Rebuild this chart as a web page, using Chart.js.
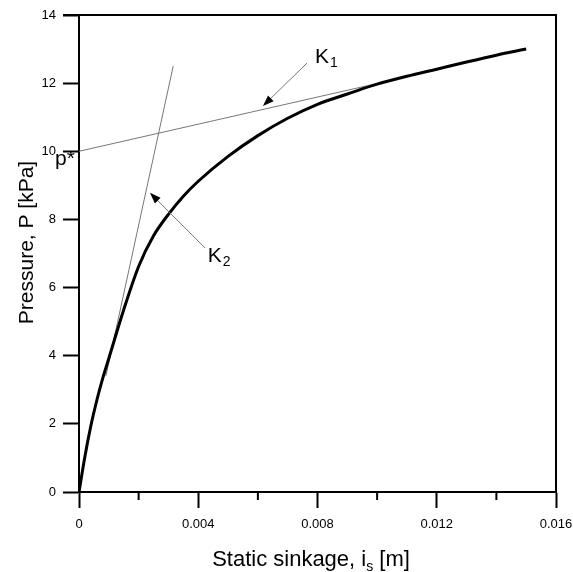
<!DOCTYPE html>
<html>
<head>
<meta charset="utf-8">
<script src="https://cdn.jsdelivr.net/npm/chart.js@4"></script>
<style>
  body { margin: 0; background: #fff; }
  #wrap { width: 573px; height: 572px; }
</style>
</head>
<body>
<div id="wrap"><canvas id="sinkChart" width="573" height="572"></canvas></div>
<script>
// measured curve: static sinkage [m] vs pressure [kPa]
const sinkage = [0, 0.0002, 0.0004, 0.0006, 0.0008, 0.001, 0.0015, 0.002, 0.0025, 0.003, 0.0035, 0.004,
  0.005, 0.006, 0.007, 0.008, 0.009, 0.010, 0.011, 0.012, 0.013, 0.014, 0.015];
const pressure = [0, 1.05, 1.95, 2.7, 3.35, 3.92, 5.35, 6.62, 7.52, 8.15, 8.68, 9.12,
  9.85, 10.46, 10.97, 11.38, 11.68, 11.97, 12.2, 12.41, 12.62, 12.82, 13.0];

// tangent lines
const k1Sinkage = [0, 0.0103];
const k1Pressure = [10, 12.05];
const k2Sinkage = [0.0009, 0.00316];
const k2Pressure = [3.4, 12.5];

const font = '"Liberation Sans", Arial, sans-serif';

// labels and arrows, placed in data units
const notes = [
  { text: 'K', sub: '1', x: 0.00792, y: 12.59 },
  { text: 'K', sub: '2', x: 0.00432, y: 6.76 },
  { text: 'p*', sub: '', x: -0.000805, y: 9.6 }
];
const arrows = [
  { from: [0.00765, 12.59], to: [0.00617, 11.33] },
  { from: [0.00423, 7.16], to: [0.00238, 8.78] }
];

function pts(xs, ys) {
  return xs.map((x, i) => ({ x: x, y: ys[i] }));
}

const extras = {
  id: 'extras',
  afterDraw(chart) {
    const ctx = chart.ctx;
    const xs = chart.scales.x, ys = chart.scales.y;
    const a = chart.chartArea;
    ctx.save();

    // frame: top and right
    ctx.strokeStyle = '#000';
    ctx.lineWidth = 2;
    ctx.beginPath();
    ctx.moveTo(a.left - 16, a.top);
    ctx.lineTo(a.right, a.top);
    ctx.lineTo(a.right, a.bottom);
    ctx.stroke();

    // minor x ticks
    [0.002, 0.006, 0.010, 0.014].forEach(v => {
      const px = xs.getPixelForValue(v);
      ctx.beginPath();
      ctx.moveTo(px, a.bottom);
      ctx.lineTo(px, a.bottom + 8);
      ctx.stroke();
    });

    // arrows
    arrows.forEach(ar => {
      const x1 = xs.getPixelForValue(ar.from[0]), y1 = ys.getPixelForValue(ar.from[1]);
      const x2 = xs.getPixelForValue(ar.to[0]), y2 = ys.getPixelForValue(ar.to[1]);
      const ang = Math.atan2(y2 - y1, x2 - x1);
      ctx.strokeStyle = '#777';
      ctx.lineWidth = 1;
      ctx.beginPath();
      ctx.moveTo(x1, y1);
      ctx.lineTo(x2 - 8 * Math.cos(ang), y2 - 8 * Math.sin(ang));
      ctx.stroke();
      ctx.fillStyle = '#000';
      ctx.beginPath();
      ctx.moveTo(x2, y2);
      ctx.lineTo(x2 - 11 * Math.cos(ang) + 4 * Math.sin(ang), y2 - 11 * Math.sin(ang) - 4 * Math.cos(ang));
      ctx.lineTo(x2 - 11 * Math.cos(ang) - 4 * Math.sin(ang), y2 - 11 * Math.sin(ang) + 4 * Math.cos(ang));
      ctx.closePath();
      ctx.fill();
    });

    // labels
    ctx.fillStyle = '#000';
    ctx.textBaseline = 'alphabetic';
    ctx.textAlign = 'left';
    notes.forEach(n => {
      const px = xs.getPixelForValue(n.x), py = ys.getPixelForValue(n.y);
      ctx.font = '21px ' + font;
      ctx.fillText(n.text, px, py);
      if (n.sub) {
        const w = ctx.measureText(n.text).width;
        ctx.font = '14px ' + font;
        ctx.fillText(n.sub, px + w + 1, py + 4);
      }
    });

    // x axis title with subscript
    const parts = [['Static sinkage, i', 22, 0], ['s', 14, 5], [' [m]', 22, 0]];
    let total = 0;
    parts.forEach(p => { ctx.font = p[1] + 'px ' + font; total += ctx.measureText(p[0]).width; });
    let cx = 311 - total / 2;
    parts.forEach(p => {
      ctx.font = p[1] + 'px ' + font;
      ctx.fillText(p[0], cx, 566 + p[2]);
      cx += ctx.measureText(p[0]).width;
    });

    // y axis title
    ctx.translate(33, 242.5);
    ctx.rotate(-Math.PI / 2);
    ctx.textAlign = 'center';
    ctx.font = '21px ' + font;
    ctx.fillText('Pressure, P [kPa]', 0, 0);
    ctx.restore();
  }
};

new Chart(document.getElementById('sinkChart'), {
  type: 'scatter',
  data: {
    datasets: [
      {
        data: pts(sinkage, pressure),
        showLine: true,
        borderColor: '#000',
        borderWidth: 3,
        pointRadius: 0,
        cubicInterpolationMode: 'monotone'
      },
      {
        data: pts(k1Sinkage, k1Pressure),
        showLine: true,
        borderColor: '#777',
        borderWidth: 1,
        pointRadius: 0
      },
      {
        data: pts(k2Sinkage, k2Pressure),
        showLine: true,
        borderColor: '#777',
        borderWidth: 1,
        pointRadius: 0
      }
    ]
  },
  options: {
    responsive: false,
    animation: false,
    events: [],
    layout: { padding: { top: 15, right: 17, left: 0, bottom: 0 } },
    plugins: { legend: { display: false }, tooltip: { enabled: false } },
    scales: {
      x: {
        type: 'linear',
        min: 0,
        max: 0.016,
        afterFit: s => { s.height = 80; s.paddingLeft = 0; s.paddingRight = 0; },
        ticks: {
          stepSize: 0.004,
          color: '#000',
          font: { family: font, size: 13 },
          padding: 9,
          maxRotation: 0,
          callback: v => v === 0 ? '0' : v.toFixed(3)
        },
        grid: { drawOnChartArea: false, tickLength: 16, tickColor: '#000', tickWidth: 2 },
        border: { color: '#000', width: 2 }
      },
      y: {
        min: 0,
        max: 14,
        afterFit: s => { s.width = 79; s.paddingTop = 0; s.paddingBottom = 0; },
        ticks: {
          stepSize: 2,
          color: '#000',
          font: { family: font, size: 13 },
          padding: 7
        },
        grid: { drawOnChartArea: false, tickLength: 16, tickColor: '#000', tickWidth: 2 },
        border: { color: '#000', width: 2 }
      }
    }
  },
  plugins: [extras]
});
</script>
</body>
</html>
